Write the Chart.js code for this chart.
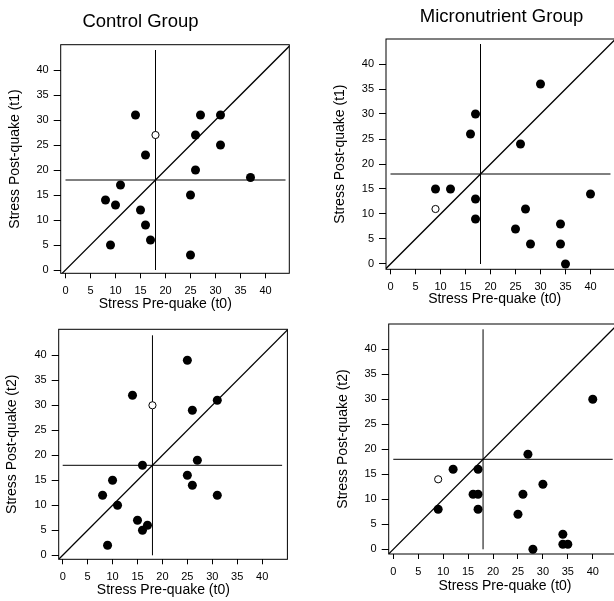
<!DOCTYPE html>
<html><head><meta charset="utf-8">
<script src="https://cdn.jsdelivr.net/npm/chart.js@4.4.1/dist/chart.umd.min.js"></script>
<style>
html,body{margin:0;padding:0;background:#fff;}
body{width:614px;height:601px;overflow:hidden;position:relative;}
canvas{position:absolute;}
</style></head><body>
<canvas id="c1"></canvas>
<canvas id="c2"></canvas>
<canvas id="c3"></canvas>
<canvas id="c4"></canvas>
<script>
// ---------- data ----------
const tickValues = [0, 5, 10, 15, 20, 25, 30, 35, 40];
const cutoff = 18;
const cutoffSpan = [0, 44];
const identitySpan = [-2, 47];
const groupTitles = ['Control Group', 'Micronutrient Group'];
const xAxisLabel = 'Stress Pre-quake (t0)';
const yAxisLabels = ['Stress Post-quake (t1)', 'Stress Post-quake (t2)'];

// Control group, t0 vs t1
const controlPreT1  = [14, 27, 31, 26, 31, 16, 26, 37, 11, 25, 8, 10, 15, 16, 17, 9, 25];
const controlPostT1 = [31, 31, 31, 27, 25, 23, 20, 18.5, 17, 15, 14, 13, 12, 9, 6, 5, 3];
const controlOpenPreT1 = [18];
const controlOpenPostT1 = [27];
// Micronutrient group, t0 vs t1
const microPreT1  = [30, 17, 16, 26, 9, 12, 40, 17, 27, 17, 34, 25, 28, 34, 35];
const microPostT1 = [36, 30, 26, 24, 15, 15, 14, 13, 11, 9, 8, 7, 4, 4, 0];
const microOpenPreT1 = [9];
const microOpenPostT1 = [11];
// Control group, t0 vs t2
const controlPreT2  = [25, 14, 31, 26, 16, 27, 25, 10, 26, 8, 31, 11, 15, 17, 16, 9];
const controlPostT2 = [39, 32, 31, 29, 18, 19, 16, 15, 14, 12, 12, 10, 7, 6, 5, 2];
const controlOpenPreT2 = [18];
const controlOpenPostT2 = [30];
// Micronutrient group, t0 vs t2
const microPreT2  = [40, 27, 12, 17, 30, 16, 17, 26, 9, 17, 25, 34, 34, 35, 28];
const microPostT2 = [30, 19, 16, 16, 13, 11, 11, 11, 8, 8, 7, 3, 1, 1, 0];
const microOpenPreT2 = [9];
const microOpenPostT2 = [14];

// ---------- layout / style ----------
const FONT = "'Liberation Sans', Arial, Helvetica, sans-serif";
const TITLE_SIZE = 18.5, AXT_SIZE = 14, TICK_SIZE = 11;
Chart.defaults.font.family = FONT;
Chart.defaults.color = '#000';

const panels = [
  { id: 'c1', title: groupTitles[0], yLabel: yAxisLabels[0],
    pre: controlPreT1, post: controlPostT1, openPre: controlOpenPreT1, openPost: controlOpenPostT1,
    area: {L: 60.7, T: 44.7, R: 289.3, B: 273.3}, xr: [-0.96, 44.76], yr: [-0.66, 45.06],
    titleCx: 140.5, titleCy: 22.2, yTitleX: 15.5, xTitleCy: 304, lead: 0, trail: 5 },
  { id: 'c2', title: groupTitles[1], yLabel: yAxisLabels[0],
    pre: microPreT1, post: microPostT1, openPre: microOpenPreT1, openPost: microOpenPostT1,
    area: {L: 386, T: 39, R: 615, B: 269.3}, xr: [-0.9, 44.9], yr: [-1.06, 45.0],
    titleCx: 501.5, titleCy: 16.7, yTitleX: 340.6, xTitleCy: 299, lead: 0, trail: 3 },
  { id: 'c3', title: null, yLabel: yAxisLabels[1],
    pre: controlPreT2, post: controlPostT2, openPre: controlOpenPreT2, openPost: controlOpenPostT2,
    area: {L: 58.7, T: 329.3, R: 288, B: 559.3}, xr: [-0.8, 45.06], yr: [-0.8, 45.2],
    titleCx: null, yTitleX: 11.9, xTitleCy: 590.5, lead: 0, trail: 5 },
  { id: 'c4', title: null, yLabel: yAxisLabels[1],
    pre: microPreT2, post: microPostT2, openPre: microOpenPreT2, openPost: microOpenPostT2,
    area: {L: 388.7, T: 324, R: 618, B: 554}, xr: [-0.92, 44.94], yr: [-0.94, 45.06],
    titleCx: null, yTitleX: 343.1, xTitleCy: 586, lead: 1, trail: 0 }
];

const framePlugin = {
  id: 'frame',
  beforeDatasetsDraw(chart) {
    const {ctx, chartArea: {left, top, right, bottom}} = chart;
    ctx.save();
    ctx.strokeStyle = '#000';
    ctx.lineWidth = 1;
    ctx.strokeRect(left, top, right - left, bottom - top);
    ctx.restore();
  }
};

function zip(xs, ys) { return xs.map((x, i) => ({x: x, y: ys[i]})); }

function buildPanel(p) {
  const A = p.area;
  const titleLH = TITLE_SIZE * 1.2, axLH = AXT_SIZE * 1.2;
  let a;
  if (p.titleCx != null) {
    a = 2 * p.titleCx - A.R;
    if (A.L - a < 45) a = A.L - 60;
  } else a = A.L - 60;
  const b = p.titleCx != null ? 2 * p.titleCx - a : A.R;
  const Wl = A.L - a, Wr = Math.max(0, b - A.R);
  const cx = Math.floor(a) - 4;
  const cw = Math.ceil(b) + 4 - cx;
  const pl = a - cx, pr = cx + cw - b;
  let cy, pt, tp = 0, tb = 0;
  if (p.title) {
    cy = 0; pt = 0;
    tp = p.titleCy - titleLH / 2;
    tb = A.T - titleLH - tp;
  } else {
    cy = Math.floor(A.T) - 18; pt = A.T - cy;
  }
  const Hx = p.xTitleCy - A.B + axLH / 2;
  const bottomEdge = A.B + Hx;
  const ch = Math.ceil(bottomEdge) + 3 - cy;
  const pb = cy + ch - bottomEdge;
  const ytp = p.yTitleX - a - axLH / 2;

  const cv = document.getElementById(p.id);
  cv.width = cw; cv.height = ch;
  cv.style.left = cx + 'px'; cv.style.top = cy + 'px';
  cv.style.width = cw + 'px'; cv.style.height = ch + 'px';

  const setTicks = (axis) => { axis.ticks = tickValues.map(v => ({value: v})); };
  const xText = ' '.repeat(p.lead) + xAxisLabel + ' '.repeat(p.trail);

  new Chart(cv, {
    type: 'scatter',
    data: {
      datasets: [
        { data: zip(p.pre, p.post), pointRadius: 4.5, pointHoverRadius: 4.5,
          backgroundColor: '#000', borderWidth: 0, order: 0 },
        { data: zip(p.openPre, p.openPost), pointRadius: 3.6, pointHoverRadius: 3.6,
          backgroundColor: '#fff', borderColor: '#000', borderWidth: 1, order: 0 },
        { type: 'line', data: [{x: cutoff, y: cutoffSpan[0]}, {x: cutoff, y: cutoffSpan[1]}],
          borderColor: '#000', borderWidth: 1, pointRadius: 0, order: 1 },
        { type: 'line', data: [{x: cutoffSpan[0], y: cutoff}, {x: cutoffSpan[1], y: cutoff}],
          borderColor: '#000', borderWidth: 1, pointRadius: 0, order: 1 },
        { type: 'line', data: [{x: identitySpan[0], y: identitySpan[0]}, {x: identitySpan[1], y: identitySpan[1]}],
          borderColor: '#000', borderWidth: 1.25, pointRadius: 0, order: 1 }
      ]
    },
    options: {
      responsive: false, animation: false, devicePixelRatio: 1,
      events: [],
      layout: { padding: { left: pl, right: pr, top: pt, bottom: pb } },
      plugins: {
        legend: { display: false }, tooltip: { enabled: false },
        title: { display: !!p.title, text: p.title || '', color: '#000',
                 font: { size: TITLE_SIZE, weight: 'normal', family: FONT },
                 padding: { top: tp, bottom: tb } }
      },
      scales: {
        x: {
          type: 'linear', position: 'bottom', min: p.xr[0], max: p.xr[1],
          afterBuildTicks: setTicks,
          afterFit: (s) => { s.height = Hx; },
          grid: { display: true, drawOnChartArea: false, drawTicks: true, tickLength: 5, color: '#000', lineWidth: 1 },
          border: { display: false },
          ticks: { autoSkip: false, maxRotation: 0, padding: 6, color: '#000', font: { size: TICK_SIZE } },
          title: { display: true, text: xText, color: '#000', font: { size: AXT_SIZE }, padding: { top: 0, bottom: 0 } }
        },
        y: {
          type: 'linear', position: 'left', min: p.yr[0], max: p.yr[1],
          afterBuildTicks: setTicks,
          afterFit: (s) => { s.width = Wl; },
          grid: { display: true, drawOnChartArea: false, drawTicks: true, tickLength: 7, color: '#000', lineWidth: 1 },
          border: { display: false },
          ticks: { autoSkip: false, padding: 5, color: '#000', font: { size: TICK_SIZE } },
          title: { display: true, text: p.yLabel, color: '#000', font: { size: AXT_SIZE }, padding: { top: ytp, bottom: 0 } }
        },
        yPad: {
          type: 'linear', position: 'right', display: true,
          afterFit: (s) => { s.width = Wr; },
          grid: { display: false }, border: { display: false },
          ticks: { display: false }
        }
      }
    },
    plugins: [framePlugin]
  });
}

panels.forEach(buildPanel);
</script>
</body></html>
